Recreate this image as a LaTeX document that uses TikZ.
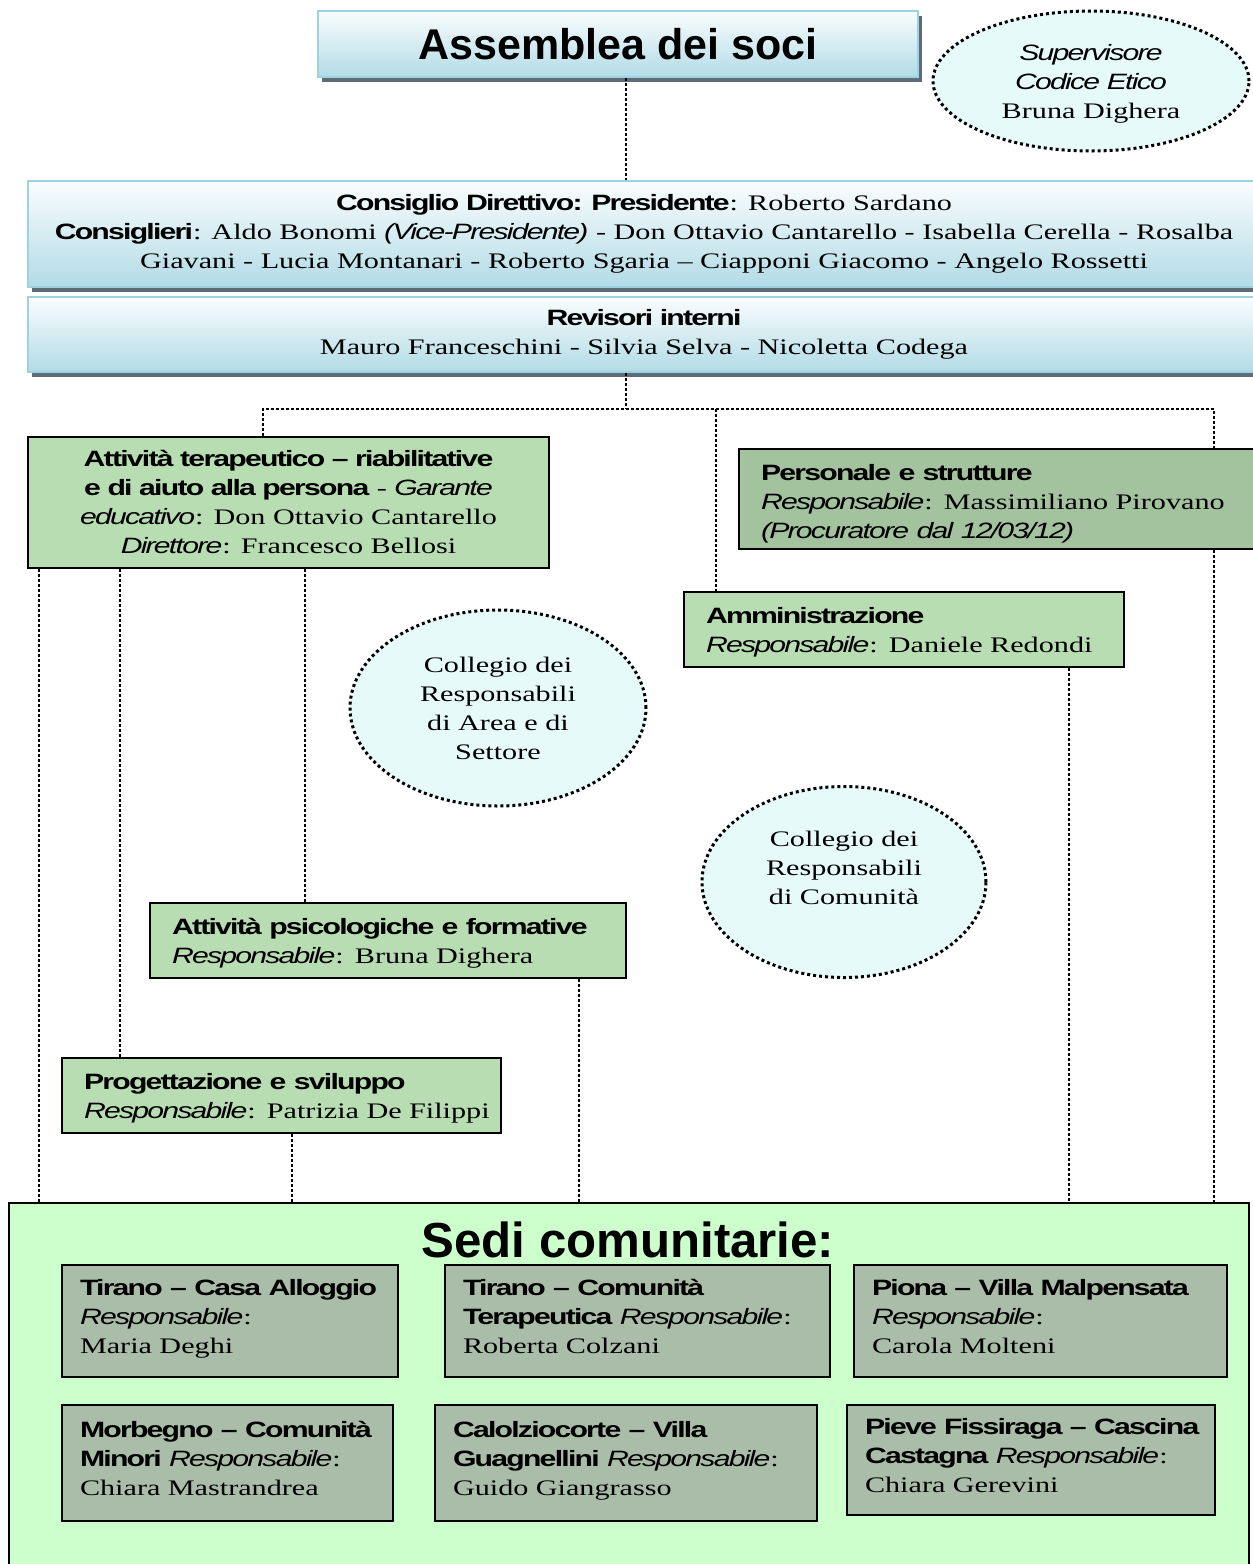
\documentclass[tikz,border=0pt]{standalone}
\usepackage{fontspec}
\setmainfont{Liberation Serif}[FakeStretch=1.36]
\setsansfont{Liberation Sans}[FakeStretch=1.36, LetterSpace=-8]
\newfontfamily\titlefont{Liberation Sans}
\usetikzlibrary{shapes.geometric,shadows}

\definecolor{blutop}{HTML}{FAFDFE}
\definecolor{blubot}{HTML}{B2DBE6}
\definecolor{bluedge}{HTML}{9CD3E0}
\definecolor{shadowc}{HTML}{5E6B78}
\definecolor{cian}{HTML}{E6FAFA}
\definecolor{verde}{HTML}{B9DDB3}
\definecolor{verdescuro}{HTML}{A3C29E}
\definecolor{sedibg}{HTML}{CCFFCC}
\definecolor{sedibox}{HTML}{A9BDA9}

\newcommand{\hdr}[1]{{\sffamily\bfseries #1}}
\newcommand{\rsp}[1]{{\sffamily\itshape #1}}

\begin{document}
\begin{tikzpicture}[
	x=0.5pt, y=-0.5pt
	,every node/.style={font=\fontsize{11.1}{14.5}\selectfont}
	,blu/.style={draw=bluedge, line width=0.8pt, top color=blutop, bottom color=blubot,
		drop shadow={shadow xshift=2pt, shadow yshift=-2.5pt, fill=shadowc, opacity=1},
		inner sep=0pt, align=center}
	,ell/.style={ellipse, draw, fill=cian, line width=1.5pt, dash pattern=on 1.5pt off 1.5pt,
		inner sep=0pt, align=center}
	,area/.style={draw, line width=0.9pt, fill=verde, inner xsep=11pt, inner ysep=0pt, align=left, text height=11pt}
	,sede/.style={draw, line width=0.9pt, fill=sedibox, inner xsep=9pt, inner ysep=0pt, align=left, text depth=33.5pt}
	,link/.style={line width=0.7pt, dash pattern=on 1.5pt off 1pt}
]
	\useasboundingbox (0,0) rectangle (1253,1564);

	\node[blu, minimum width=300pt, minimum height=33pt, font=\fontsize{21.5}{24}\selectfont\titlefont\bfseries]
		(assemblea) at (618,44) {Assemblea dei soci};
	\node[ell, minimum width=158pt, minimum height=70pt, text depth=0pt] (sup) at (1091,81)
		{\rsp{Supervisore}\\\rsp{Codice Etico}\\Bruna Dighera};
	\node[blu, minimum width=616pt, minimum height=53pt] (consiglio) at (644,234)
		{\hdr{Consiglio Direttivo: Presidente}: Roberto Sardano\\
		\hdr{Consiglieri}: Aldo Bonomi \rsp{(Vice-Presidente)} - Don Ottavio Cantarello - Isabella Cerella - Rosalba\\
		Giavani - Lucia Montanari - Roberto Sgaria -- Ciapponi Giacomo - Angelo Rossetti};
	\node[blu, minimum width=616pt, minimum height=37.5pt] (revisori) at (644,334.5)
		{\hdr{Revisori interni}\\Mauro Franceschini - Silvia Selva - Nicoletta Codega};

	\node[area, align=center, text height=, minimum width=260.5pt, minimum height=65.5pt] (terap) at (288.5,502.5)
		{\hdr{Attività terapeutico -- riabilitative}\\
		\hdr{e di aiuto alla persona} - \rsp{Garante}\\
		\rsp{educativo}: Don Ottavio Cantarello\\
		\rsp{Direttore}: Francesco Bellosi};
	\node[area, fill=verdescuro, text width=239.5pt, text height=13pt, minimum height=50pt] (pers) at (1000.5,499)
		{\hdr{Personale e strutture}\\
		\rsp{Responsabile}: Massimiliano Pirovano\\
		\rsp{(Procuratore dal 12/03/12)}};
	\node[area, text width=198pt, minimum height=37.5pt] (amm) at (904,629.5)
		{\hdr{Amministrazione}\\\rsp{Responsabile}: Daniele Redondi};
	\node[ell, minimum width=148pt, minimum height=98pt] (coll1) at (498,708)
		{Collegio dei\\Responsabili\\di Area e di\\Settore};
	\node[ell, minimum width=142pt, minimum height=95.5pt, text depth=14.5pt] (coll2) at (844,882)
		{Collegio dei\\Responsabili\\di Comunità};
	\node[area, text width=216pt, minimum height=37.5pt] (psico) at (388,940.5)
		{\hdr{Attività psicologiche e formative}\\\rsp{Responsabile}: Bruna Dighera};
	\node[area, text width=197.5pt, minimum height=37.5pt] (prog) at (281.5,1095.5)
		{\hdr{Progettazione e sviluppo}\\\mbox{\rsp{Responsabile}: Patrizia De Filippi}};

	\node[draw, line width=0.8pt, fill=sedibg, minimum width=620pt, minimum height=183.5pt, inner sep=0pt]
		(sedi) at (629,1386.5) {};
	\node[font=\fontsize{24.6}{26}\selectfont\titlefont\bfseries] (seditit) at (628,1240) {Sedi comunitarie:};
	\node[sede, text width=150pt, minimum height=56pt] (s1) at (230,1321)
		{\hdr{Tirano -- Casa Alloggio}\\\rsp{Responsabile}:\\Maria Deghi};
	\node[sede, text width=174.5pt, minimum height=56pt] (s2) at (637.5,1321)
		{\hdr{Tirano -- Comunità}\\\hdr{Terapeutica} \rsp{Responsabile}:\\Roberta Colzani};
	\node[sede, text width=168.5pt, minimum height=56pt] (s3) at (1040.5,1321)
		{\hdr{Piona -- Villa Malpensata}\\\rsp{Responsabile}:\\Carola Molteni};
	\node[sede, text width=147.5pt, minimum height=58pt] (s4) at (227.5,1463)
		{\hdr{Morbegno -- Comunità}\\\hdr{Minori} \rsp{Responsabile}:\\Chiara Mastrandrea};
	\node[sede, text width=173pt, minimum height=58pt] (s5) at (626,1463)
		{\hdr{Calolziocorte -- Villa}\\\hdr{Guagnellini} \rsp{Responsabile}:\\Guido Giangrasso};
	\node[sede, text width=166pt, minimum height=55pt] (s6) at (1031,1460)
		{\mbox{\hdr{Pieve Fissiraga -- Cascina}}\\\hdr{Castagna} \rsp{Responsabile}:\\Chiara Gerevini};

	\coordinate (busC) at (626,409);
	\coordinate (busL) at (263,409);
	\coordinate (busM) at (716,409);
	\coordinate (busR) at (1214,409);
	\coordinate (colA) at (39,0);
	\coordinate (colB) at (120,0);
	\coordinate (colC) at (305,0);
	\coordinate (colD) at (579,0);
	\coordinate (colE) at (292,0);
	\coordinate (colF) at (1069,0);

	\draw[link] (assemblea.south -| busC) -- (consiglio.north -| busC);
	\draw[link] (revisori.south -| busC) -- (busC);
	\draw[link] (terap.north -| busL) |- (busR) -- (pers.north -| busR);
	\draw[link] (busM) -- (amm.north -| busM);
	\draw[link] (pers.south -| busR) -- (sedi.north -| busR);
	\draw[link] (terap.south -| colA) -- (sedi.north -| colA);
	\draw[link] (terap.south -| colB) -- (prog.north -| colB);
	\draw[link] (terap.south -| colC) -- (psico.north -| colC);
	\draw[link] (psico.south -| colD) -- (sedi.north -| colD);
	\draw[link] (prog.south -| colE) -- (sedi.north -| colE);
	\draw[link] (amm.south -| colF) -- (sedi.north -| colF);
\end{tikzpicture}
\end{document}
